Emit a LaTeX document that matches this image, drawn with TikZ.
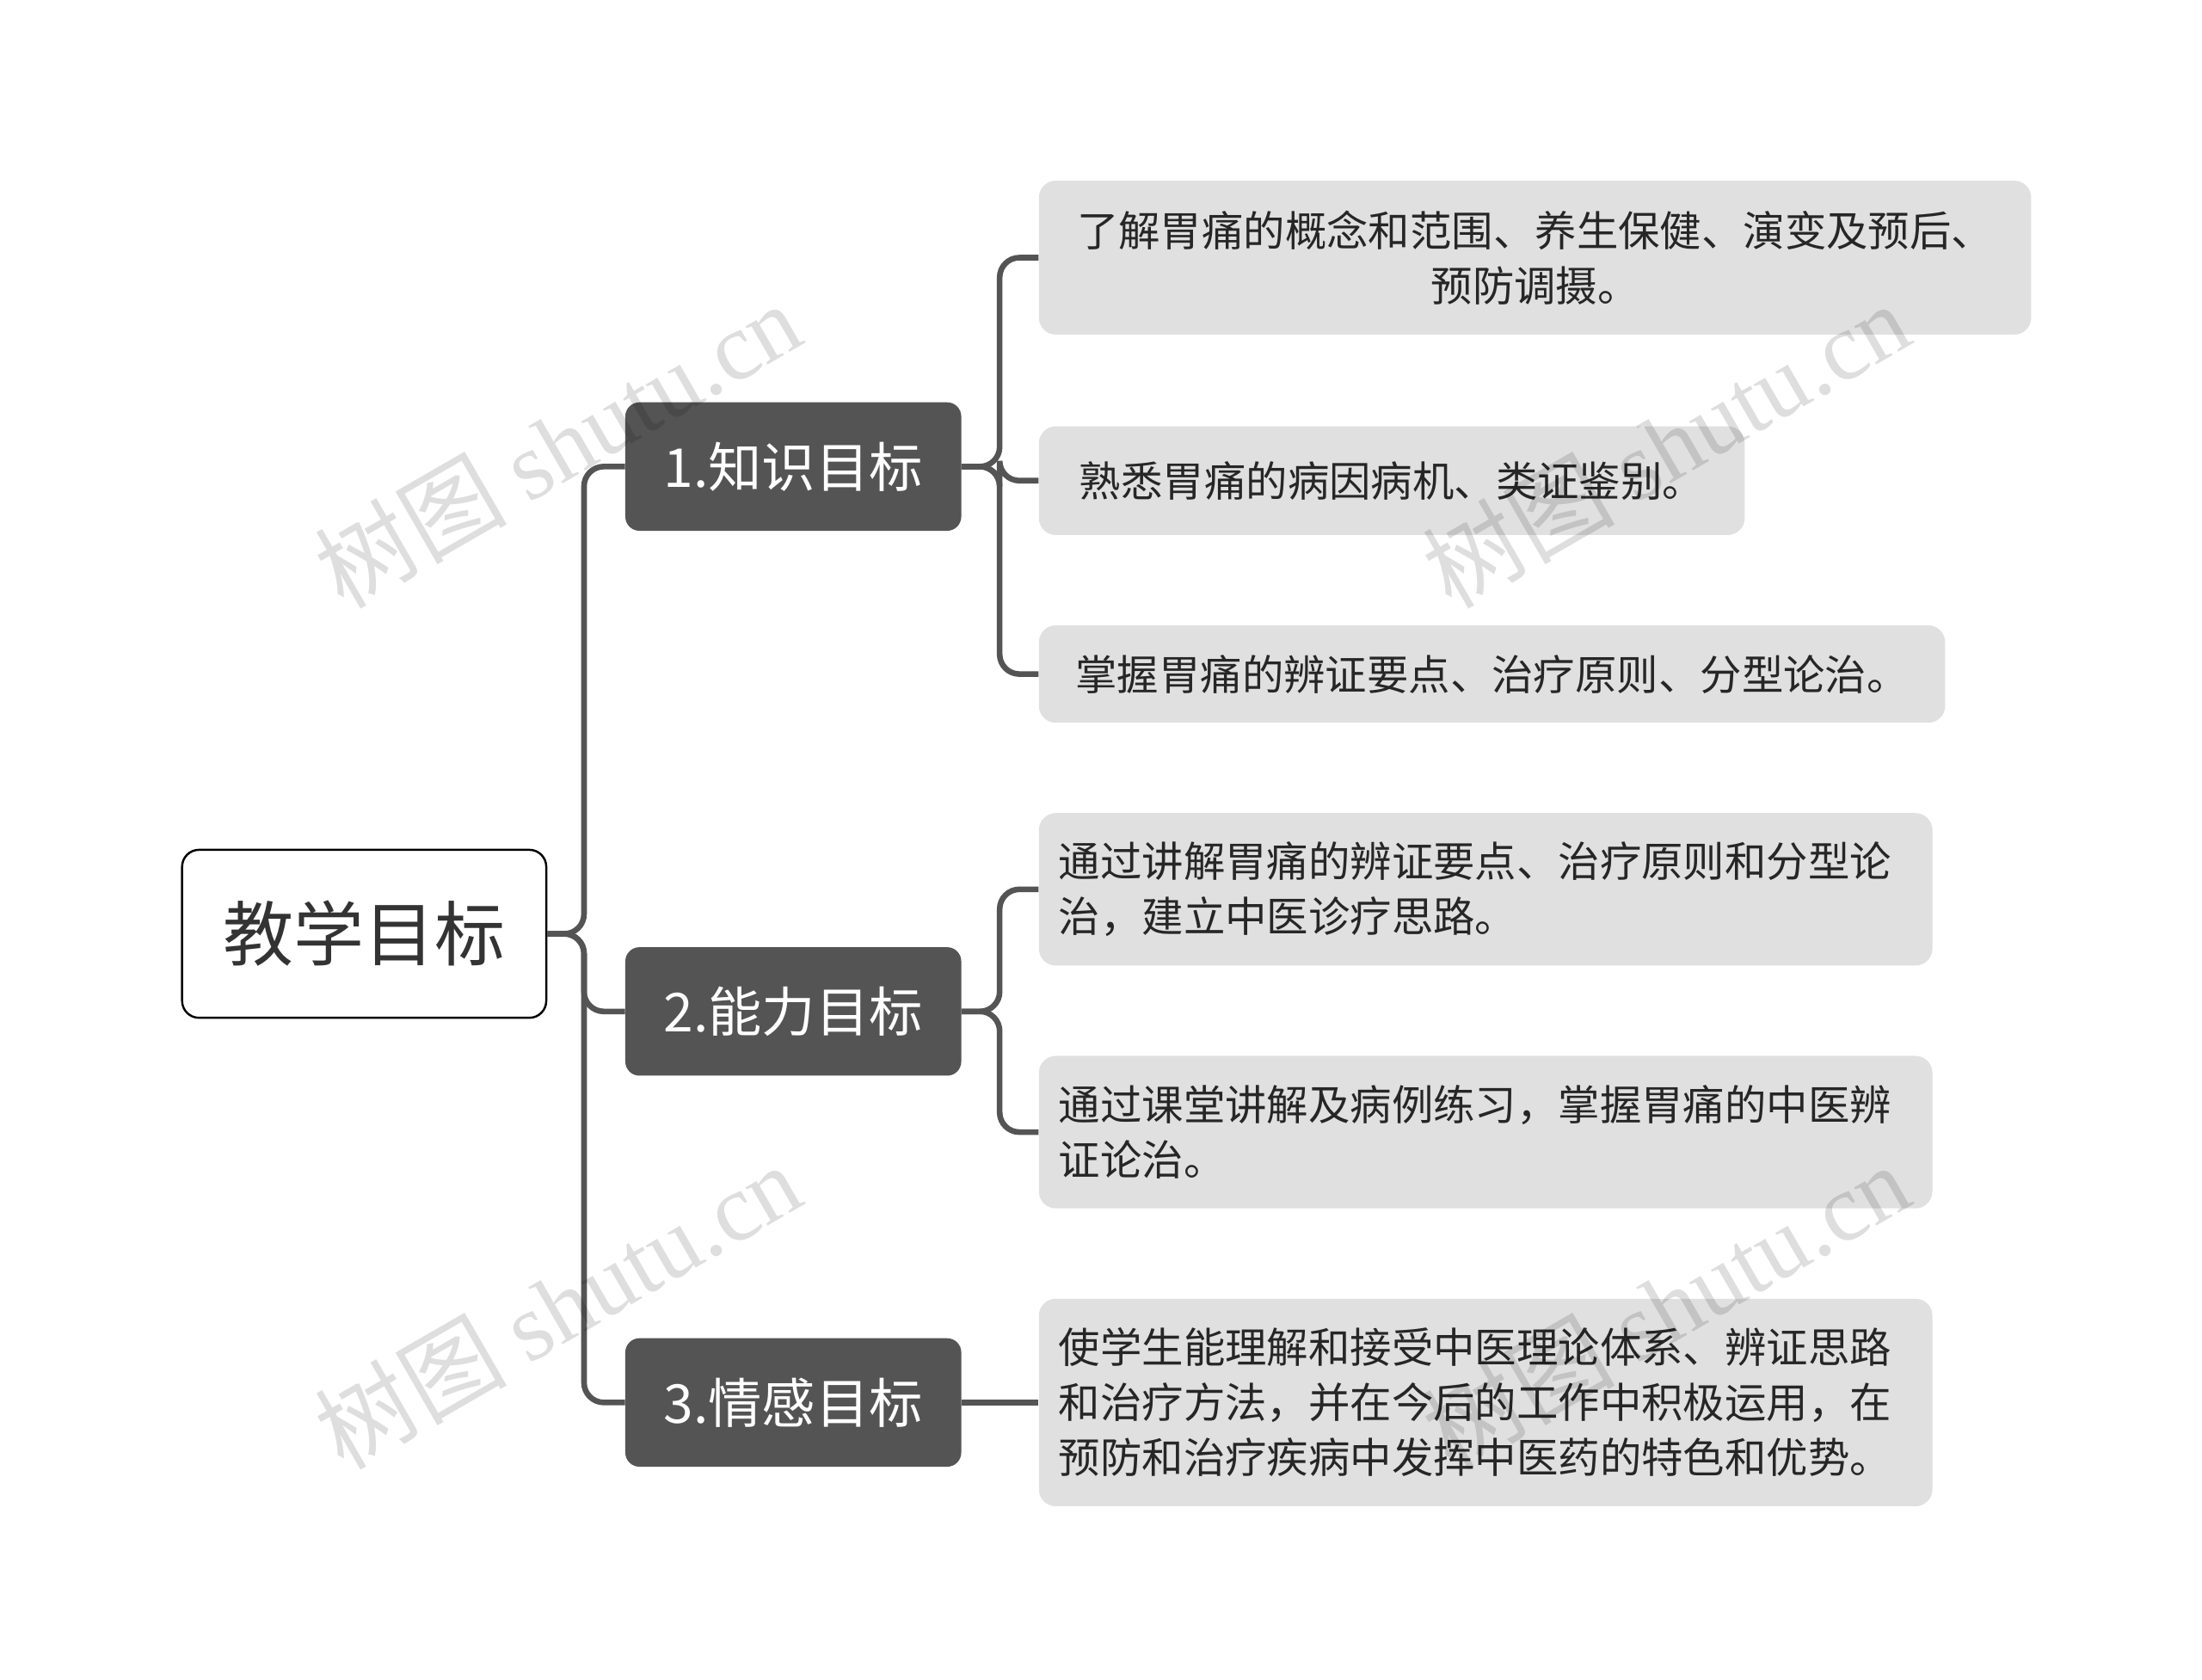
\documentclass[tikz,border=0pt]{standalone}
\usepackage{fontspec}
\setmainfont{Noto Sans CJK SC}
\newfontfamily\wmlatin{Liberation Serif}
\begin{document}
\begin{tikzpicture}[x=1pt,y=-1pt,
 rootbox/.style={draw=black,line width=1.5pt,fill=white,rounded corners=12pt,minimum width=258pt,minimum height=119pt,font=\fontsize{50}{60}\selectfont,text=black!80,inner sep=0pt},
 midbox/.style={fill=black!67,rounded corners=10pt,minimum width=238pt,minimum height=91pt,text=white,font=\fontsize{38}{46}\selectfont,inner sep=0pt},
 leafbox/.style={fill=black!12,rounded corners=12pt,inner sep=0pt,text=black!85,font=\fontsize{29.5}{39}\selectfont},
 conn/.style={draw=black!67,line width=4pt,rounded corners=14pt},
 wm/.style={text=black,opacity=0.13,rotate=30,font=\fontsize{68}{72}\selectfont}]
\useasboundingbox[fill=white] (0,0) rectangle (1560,1190);
% nodes
\node[rootbox] (root) at (258,661.5) {教学目标};
\node[midbox] (m1) at (562,330.5) {1.知识目标};
\node[midbox] (m2) at (562,716.5) {2.能力目标};
\node[midbox] (m3) at (562,993.5) {3.情感目标};
\node[leafbox,minimum width=703pt,minimum height=109pt,align=center] (l1a) at (1087.5,182.5) {了解胃痛的概念和范围、养生保健、演变及预后、\\预防调摄。};
\node[leafbox,minimum width=500pt,minimum height=77pt] (l1b) at (986,340.5) {熟悉胃痛的病因病机、类证鉴别。};
\node[leafbox,minimum width=642pt,minimum height=69pt] (l1c) at (1057,477.5) {掌握胃痛的辨证要点、治疗原则、分型论治。};
\node[leafbox,minimum width=633pt,minimum height=108pt,text width=605pt,align=left] (l2a) at (1052.5,630) {通过讲解胃痛的辨证要点、治疗原则和分型论\\治，建立中医诊疗思路。};
\node[leafbox,minimum width=633pt,minimum height=108pt,text width=605pt,align=left] (l2b) at (1052.5,802) {通过课堂讲解及病例练习，掌握胃痛的中医辨\\证论治。};
\node[leafbox,minimum width=633pt,minimum height=147pt,text width=605pt,align=left] (l3) at (1052.5,993.5) {使学生能理解和接受中医理论体系、辨证思路\\和治疗方法，并在今后的工作中积极运用，在\\预防和治疗疾病中发挥中医药的特色和优势。};
% connectors
\foreach \c in {m1,m2,m3} \draw[conn] (root.east) -- ++(26,0) |- (\c.west);
\foreach \c in {l1a,l1b,l1c} \draw[conn] (m1.east) -- ++(27,0) |- (\c.west);
\foreach \c in {l2a,l2b} \draw[conn] (m2.east) -- ++(27,0) |- (\c.west);
\draw[conn] (m3.east) -- (l3.west);
% watermarks
\foreach \p in {(395,315),(1180,315),(395,925),(1180,925)}
  \node[wm] at \p {树图 {\wmlatin shutu.cn}};
\end{tikzpicture}
\end{document}
